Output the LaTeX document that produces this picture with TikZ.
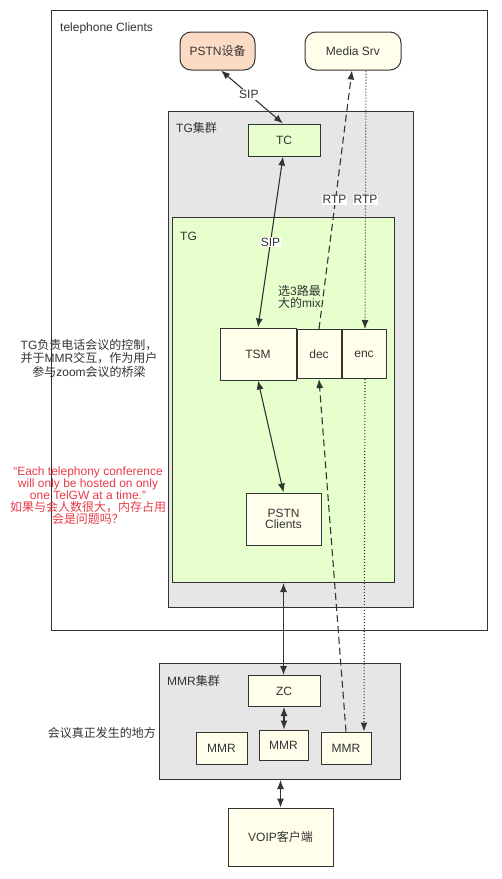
\documentclass[tikz,border=0pt]{standalone}
\usepackage{fontspec}
\usepackage{xcolor}
\usepackage{tikz}
\setmainfont{Liberation Sans}
\newfontfamily\cjk{Noto Sans CJK SC}
\usetikzlibrary{arrows.meta,positioning}
\definecolor{linegray}{RGB}{51,51,51}
\definecolor{cream}{RGB}{255,255,236}
\definecolor{peach}{RGB}{252,219,196}
\definecolor{leaf}{RGB}{230,255,204}
\definecolor{clustergray}{RGB}{230,230,230}
\definecolor{notered}{RGB}{232,60,72}
\newcommand{\fs}{\fontsize{12pt}{13pt}\selectfont}

\begin{document}
\begin{tikzpicture}[
  x=1pt, y=-1pt,
  node distance=0pt,
  frame/.style={rectangle, draw=linegray, line width=1pt, fill=white, anchor=north west, inner sep=0pt},
  cluster/.style={frame, fill=clustergray},
  box/.style={rectangle, draw=linegray, line width=1pt, fill=cream, align=center, inner sep=0pt, font=\fs, text=linegray},
  pill/.style={box, rounded corners=11pt},
  title/.style={anchor=west, inner sep=0pt, font=\fs, text=linegray},
  note/.style={align=center, inner sep=0pt, font=\fs, text=linegray},
  lbl/.style={fill=white, inner sep=1pt, font=\fs, text=linegray},
  arrow/.style={-{Latex[length=9pt,width=7pt]}, line width=1.1pt, draw=linegray},
  biarrow/.style={{Latex[length=9pt,width=7pt]}-{Latex[length=9pt,width=7pt]}, line width=1.1pt, draw=linegray}
]
\useasboundingbox (0,0) rectangle (502,879);
\node[frame, minimum width=436pt, minimum height=620pt] (tel) at (51,10) {};
\node[cluster, minimum width=245pt, minimum height=496pt] (tgc) at (168,111) {};
\node[frame, fill=leaf, minimum width=222pt, minimum height=365pt] (tg) at (172,217) {};
\node[cluster, minimum width=241pt, minimum height=116pt] (mmrc) at (159,663) {};
\node[title] (tellbl) at (60,28) {telephone Clients};
\node[title] (tgclbl) at (176,128) {TG{\cjk 集群}};
\node[title] (tglbl) at (180,236) {TG};
\node[title] (mmrclbl) at (167,681) {MMR{\cjk 集群}};
\node[pill, fill=peach, minimum width=75pt, minimum height=38pt] (pstn) at (217.5,51) {PSTN{\cjk 设备}};
\node[pill, minimum width=96pt, minimum height=38pt] (media) at (353,51) {Media Srv};
\node[box, fill=leaf, minimum width=72pt, minimum height=32pt] (tc) at (284,140) {TC};
\node[box, minimum width=76pt, minimum height=52pt] (tsm) at (258,354) {TSM};
\node[box, minimum width=44pt, minimum height=49pt, right=of tsm] (dec) {dec};
\node[box, minimum width=44pt, minimum height=49pt, right=of dec] (enc) {enc};
\node[box, minimum width=75pt, minimum height=52pt] (pclients) at (283.5,519) {PSTN\\[-2pt]Clients};
\node[box, minimum width=72pt, minimum height=31pt] (zc) at (284,691) {ZC};
\node[box, minimum width=51pt, minimum height=32pt] (mmrl) at (221.5,748) {MMR};
\node[box, minimum width=49pt, minimum height=30pt] (mmrm) at (283.5,745) {MMR};
\node[box, minimum width=50pt, minimum height=32pt] (mmrr) at (346,748) {MMR};
\node[box, minimum width=105pt, minimum height=58pt] (voip) at (280.5,837) {VOIP{\cjk 客户端}};
\node[note, anchor=north west, align=left, font=\fontsize{12pt}{12pt}\selectfont] (mixnote) at (278,285) {{\cjk 选}3{\cjk 路最}\\{\cjk 大的}mix};
\node[note, font=\fontsize{12pt}{13.5pt}\selectfont] (tgnote) at (89,358) {TG{\cjk 负责电话会议的控制，}\\{\cjk 并于}MMR{\cjk 交互，作为用户}\\{\cjk 参与}zoom{\cjk 会议的桥梁}};
\node[note, text=notered, font=\fontsize{12pt}{12pt}\selectfont] (rednote) at (88,496) {“Each telephony conference\\will only be hosted on only\\one TelGW at a time.”\\{\cjk 如果与会人数很大，内存占用}\\{\cjk 会是问题吗？}};
\node[note, anchor=east] (meetnote) at (156,733) {{\cjk 会议真正发生的地方}};
\draw[biarrow] ([xshift=3.5pt]pstn.south) -- ([xshift=-1pt]tc.north) node[lbl, pos=0.45] {SIP};
\draw[biarrow] ([xshift=-1pt]tc.south) -- (tsm.north) node[lbl, midway] {SIP};
\draw[arrow, dash pattern=on 7pt off 4pt] (dec.north) -- ([xshift=-1pt]media.south) node[lbl, midway, xshift=-1pt] {RTP};
\draw[arrow, dash pattern=on 1pt off 2pt] ([xshift=13pt]media.south) -- ([xshift=1pt]enc.north) node[lbl, midway] {RTP};
\draw[biarrow] (tsm.south) -- (pclients.north);
\draw[biarrow] (tg.south) -- (tg.south |- zc.north);
\draw[arrow, dash pattern=on 7pt off 4pt] (mmrr.north) -- (dec.south);
\draw[arrow, dash pattern=on 1pt off 2pt] ([xshift=1pt]enc.south) -- ([xshift=18pt]mmrr.north);
\draw[biarrow] (zc.south) -- (zc.south |- mmrm.north);
\draw[biarrow] (voip.north |- mmrc.south) -- (voip.north);
\end{tikzpicture}
\end{document}
